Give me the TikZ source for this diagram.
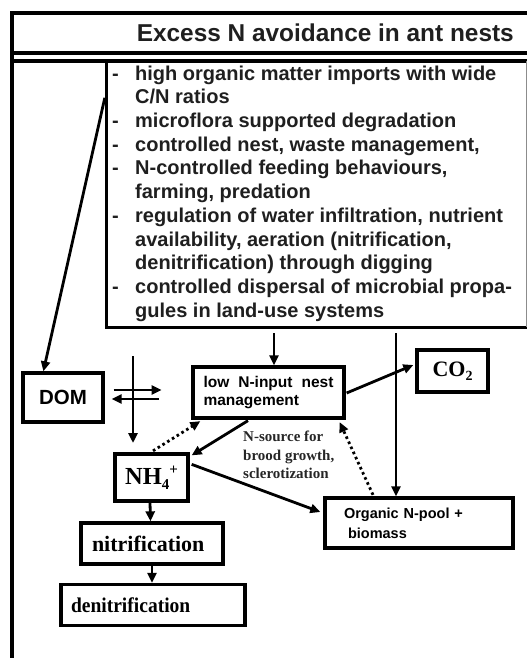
\documentclass[tikz,border=0pt]{standalone}
\usepackage{fontspec}
\setmainfont{Liberation Serif}
\setsansfont{Liberation Sans}
\usetikzlibrary{arrows.meta,calc}
\tikzset{
  frame/.style={line width=3.2pt},
  box/.style={draw, line width=3.3pt, rectangle, inner sep=0pt},
  arr/.style={line width=2.8pt, -{Triangle[length=10pt,width=9pt]}},
  dotarr/.style={arr, dash pattern=on 2.6pt off 3pt},
  sansb/.style={font=\sffamily\bfseries\fontsize{#1}{#1}\selectfont},
}
\begin{document}
\begin{tikzpicture}[x=1pt,y=-1pt]
\useasboundingbox (0,0) rectangle (527,658);
% outer frame
\draw[frame] (12,658) -- (12,13) -- (527,13);
\draw[frame] (12,53) -- (527,53);
\draw[frame] (12,61) -- (527,61);
\node[anchor=east, inner sep=0pt, font=\sffamily\bfseries\fontsize{24.4}{24.4}\selectfont, text=black!88] (title) at (514,33) {Excess N avoidance in ant nests};
% text box
\node[minimum width=419pt, minimum height=266pt, inner sep=0pt] (tb) at (316.5,194) {};
\draw[frame] (tb.north west) -- (tb.south west) -- ($(tb.south east)+(1,0)$);
\draw[line width=0.8pt, black!45] (tb.north east) -- (tb.south east);
\node[anchor=north west, inner sep=0pt, align=left, text=black!88,
      font=\sffamily\bfseries\fontsize{20}{23.7}\selectfont] (items) at (112,65.5) {%
\makebox[23pt][l]{-}high organic matter imports with wide\\
\hspace*{23pt}C/N ratios\\
\makebox[23pt][l]{-}microflora supported degradation\\
\makebox[23pt][l]{-}controlled nest, waste management,\\
\makebox[23pt][l]{-}N-controlled feeding behaviours,\\
\hspace*{23pt}farming, predation\\
\makebox[23pt][l]{-}regulation of water infiltration, nutrient\\
\hspace*{23pt}availability, aeration (nitrification,\\
\hspace*{23pt}denitrification) through digging\\
\makebox[23pt][l]{-}controlled dispersal of microbial propa-\\
\hspace*{23pt}gules in land-use systems};
% nodes
\node[box, minimum width=80pt, minimum height=49pt, sansb=20.5] (DOM) at (63,397.5) {DOM};
\node[box, minimum width=151pt, minimum height=51pt, text width=130pt, inner xsep=10.5pt, align=left,
      font=\sffamily\bfseries\fontsize{15.5}{17.5}\selectfont] (lowN) at (268.5,392.5)
      {\makebox[130pt][l]{low\hfill N-input\hfill nest}\\management};
\node[box, minimum width=71pt, minimum height=42pt, font=\bfseries\fontsize{22}{22}\selectfont] (CO2) at (452.5,371)
      {CO\raisebox{-4pt}{\fontsize{14}{14}\selectfont 2}};
\node[box, minimum width=73pt, minimum height=47pt, font=\bfseries\fontsize{24.5}{24.5}\selectfont] (NH4) at (151.5,477.5)
      {NH\raisebox{-5pt}{\fontsize{15}{15}\selectfont 4}\raisebox{10pt}{\fontsize{15}{15}\selectfont +}};
\node[box, minimum width=188pt, minimum height=50pt, text width=150pt, inner xsep=19pt, align=left,
      font=\sffamily\bfseries\fontsize{14.5}{20}\selectfont] (org) at (419,523)
      {Organic N-pool +\\\hspace*{4pt}biomass};
\node[box, minimum width=142pt, minimum height=41pt, text width=120pt, inner xsep=11pt, align=left,
      font=\bfseries\fontsize{22}{22}\selectfont] (nitr) at (152,543.5) {nitrification};
\node[box, minimum width=184pt, minimum height=41pt, text width=164pt, inner xsep=10pt, align=left,
      font=\bfseries\fontsize{21}{21}\selectfont\addfontfeature{FakeStretch=0.93}] (denitr) at (153,605) {denitrification};
\node[anchor=north west, inner sep=0pt, align=left, text=black!85,
      font=\bfseries\fontsize{15}{18.5}\selectfont] (lbl) at (243,431) {N-source for\\brood growth,\\sclerotization};
% connectors
\coordinate (inL) at ($(lowN.north)+(5.5,0)$);
\coordinate (inO) at ($(org.north)+(-23,0)$);
\draw[arr] ($(tb.north west)+(-2,37)$) -- ($(DOM.north west)+(22,0)$);
\draw[arr] ($(DOM.east)+(9,-7.5)$) -- +(48,0);
\draw[arr] ($(DOM.east)+(54,1.5)$) -- +(-47,0);
\coordinate (vtop) at (133,356);
\coordinate (vbot) at (133,443);
\draw[arr] (vtop) -- (vbot);
\draw[arr, shorten <=6pt] (inL |- tb.south) -- (inL);
\draw[arr, shorten <=6pt] (inO |- tb.south) -- (inO);
\draw[arr] ($(lowN.east)+(1,0.5)$) -- ($(CO2.west)+(-2,-6)$);
\draw[arr] ($(lowN.south)+(-20.5,1)$) -- ($(NH4.north east)+(2,3)$);
\draw[dotarr] ($(NH4.north)+(1.5,-1.5)$) -- ($(lowN.south west)+(9,1.5)$);
\draw[dotarr] ($(org.north)+(-46,-1.5)$) -- ($(lowN.south east)+(-6,2.5)$);
\draw[arr] ($(NH4.north east)+(2,12)$) -- ($(org.west)+(-3,-11)$);
\draw[arr] ($(NH4.south)+(-1.5,0)$) -- ($(nitr.north)+(-1.5,0)$);
\draw[arr] (nitr.south) -- (denitr.north -| nitr.south);
\end{tikzpicture}
\end{document}
